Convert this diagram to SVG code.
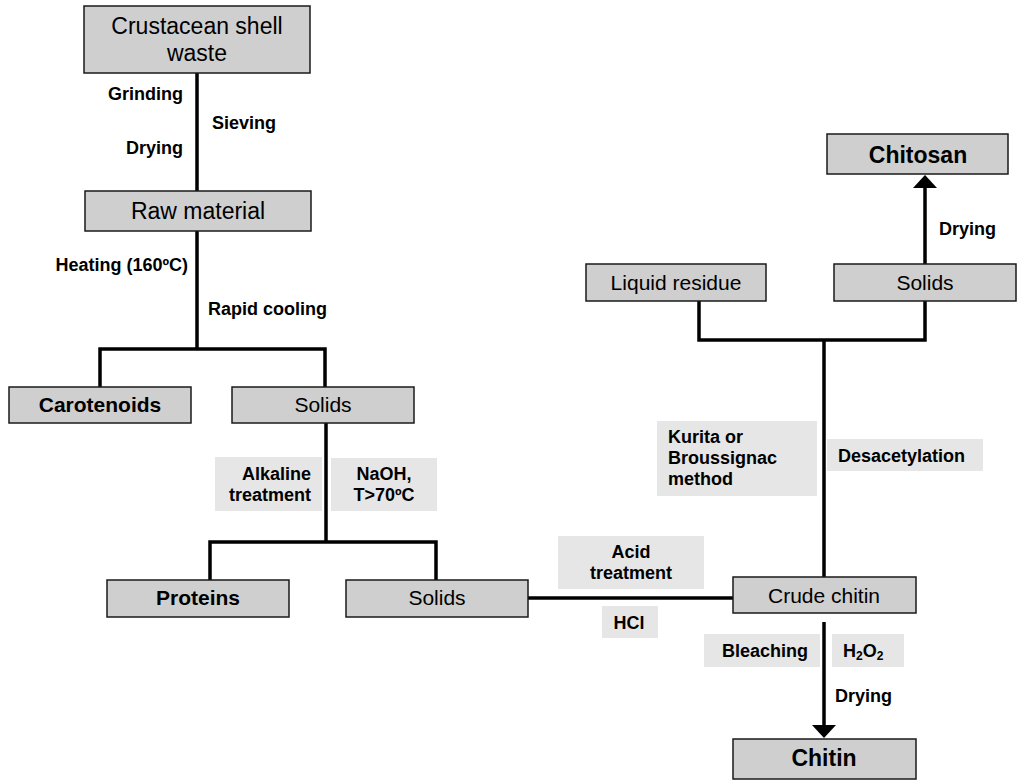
<svg xmlns="http://www.w3.org/2000/svg" width="1024" height="784" viewBox="0 0 1024 784">
<defs>
<style>
.box{fill:#cfcfcf;stroke:#1a1a1a;stroke-width:1.5}
.lbl{fill:#e6e6e6;stroke:none}
.t{font-family:"Liberation Sans",Arial,sans-serif;fill:#000}
.big{font-size:23px}
.reg{font-size:21px}
.bb{font-size:21px;font-weight:bold}
.bbig{font-size:23px;font-weight:bold}
.s{font-size:18px;font-weight:bold}
.ln{fill:none;stroke:#000;stroke-width:3.5}
.ah{fill:#000}
</style>
</defs>
<rect width="1024" height="784" fill="#fff"/>
<g id="connectors">
<path class="ln" d="M197,73 V191"/>
<path class="ln" d="M197,231 V349 M100,387 V349 H325 V387"/>
<path class="ln" d="M326,423 V542 M210,580 V542 H436 V580"/>
<path class="ln" d="M528,598 H733"/>
<path class="ln" d="M824,577 V340 M699,301 V340 H925 V301"/>
<path class="ln" d="M925,264 V186"/>
<polygon class="ah" points="925,175 913,188 937,188"/>
<path class="ln" d="M824,622 V727"/>
<polygon class="ah" points="824,738 812,725 836,725"/>
</g>
<g id="lbl-grinding"><text class="t s" x="183" y="100" text-anchor="end">Grinding</text></g>
<g id="lbl-sieving"><text class="t s" x="212" y="129">Sieving</text></g>
<g id="lbl-drying1"><text class="t s" x="183" y="154" text-anchor="end">Drying</text></g>
<g id="lbl-heating"><text class="t s" x="188" y="271" text-anchor="end">Heating (160ºC)</text></g>
<g id="lbl-cooling"><text class="t s" x="208" y="315">Rapid cooling</text></g>
<g id="lbl-alkaline"><rect class="lbl" x="215" y="457" width="107" height="54"/><text class="t s" x="311" y="480" text-anchor="end">Alkaline</text><text class="t s" x="311" y="501" text-anchor="end">treatment</text></g>
<g id="lbl-naoh"><rect class="lbl" x="331" y="458" width="106" height="53"/><text class="t s" x="384" y="480" text-anchor="middle">NaOH,</text><text class="t s" x="384" y="501" text-anchor="middle">T&gt;70ºC</text></g>
<g id="lbl-acid"><rect class="lbl" x="558" y="536" width="146" height="53"/><text class="t s" x="631" y="558" text-anchor="middle">Acid</text><text class="t s" x="631" y="579" text-anchor="middle">treatment</text></g>
<g id="lbl-hcl"><rect class="lbl" x="602" y="606" width="56" height="32"/><text class="t s" x="629" y="629" text-anchor="middle">HCl</text></g>
<g id="lbl-kurita"><rect class="lbl" x="657" y="421" width="160" height="75"/><text class="t s" x="668" y="443">Kurita or</text><text class="t s" x="668" y="464">Broussignac</text><text class="t s" x="668" y="485">method</text></g>
<g id="lbl-desacetylation"><rect class="lbl" x="827" y="439" width="156" height="32"/><text class="t s" x="838" y="462">Desacetylation</text></g>
<g id="lbl-bleaching"><rect class="lbl" x="704" y="634" width="116" height="33"/><text class="t s" x="765" y="657" text-anchor="middle">Bleaching</text></g>
<g id="lbl-h2o2"><rect class="lbl" x="832" y="634" width="72" height="33"/><text class="t s" x="843" y="657">H<tspan font-size="12" dy="3">2</tspan><tspan dy="-3">O</tspan><tspan font-size="12" dy="3">2</tspan></text></g>
<g id="lbl-drying2"><text class="t s" x="835" y="702">Drying</text></g>
<g id="lbl-drying3"><text class="t s" x="939" y="235">Drying</text></g>
<g id="n-waste"><rect class="box" x="84" y="6" width="226" height="67"/><text class="t big" x="197" y="34" text-anchor="middle">Crustacean shell</text><text class="t big" x="197" y="61" text-anchor="middle">waste</text></g>
<g id="n-raw"><rect class="box" x="85" y="191" width="226" height="40"/><text class="t big" x="198" y="219" text-anchor="middle">Raw material</text></g>
<g id="n-carotenoids"><rect class="box" x="9" y="387" width="182" height="36"/><text class="t bb" x="100" y="412" text-anchor="middle">Carotenoids</text></g>
<g id="n-solids1"><rect class="box" x="232" y="387" width="182" height="36"/><text class="t reg" x="323" y="412" text-anchor="middle">Solids</text></g>
<g id="n-proteins"><rect class="box" x="107" y="580" width="182" height="37"/><text class="t bb" x="198" y="605" text-anchor="middle">Proteins</text></g>
<g id="n-solids2"><rect class="box" x="346" y="580" width="182" height="37"/><text class="t reg" x="437" y="605" text-anchor="middle">Solids</text></g>
<g id="n-crude"><rect class="box" x="733" y="577" width="183" height="36"/><text class="t reg" x="824" y="603" text-anchor="middle">Crude chitin</text></g>
<g id="n-chitin"><rect class="box" x="733" y="739" width="183" height="40"/><text class="t bbig" x="824" y="766" text-anchor="middle">Chitin</text></g>
<g id="n-liquid"><rect class="box" x="586" y="264" width="180" height="37"/><text class="t reg" x="676" y="290" text-anchor="middle">Liquid residue</text></g>
<g id="n-solids3"><rect class="box" x="834" y="264" width="182" height="37"/><text class="t reg" x="925" y="290" text-anchor="middle">Solids</text></g>
<g id="n-chitosan"><rect class="box" x="827" y="134" width="181" height="40"/><text class="t bbig" x="918" y="163" text-anchor="middle">Chitosan</text></g>
</svg>
